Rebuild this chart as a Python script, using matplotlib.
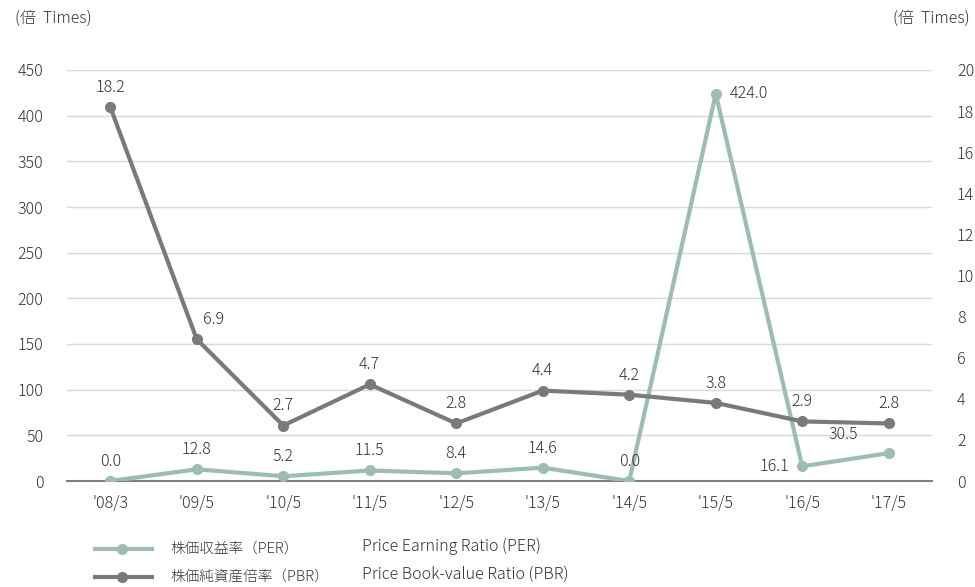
import matplotlib
matplotlib.use("Agg")
import matplotlib.pyplot as plt
from matplotlib.lines import Line2D

plt.rcParams['font.family'] = ['Noto Sans CJK JP', 'DejaVu Sans']
plt.rcParams['font.weight'] = 'light'

categories = ["'08/3", "'09/5", "'10/5", "'11/5", "'12/5", "'13/5", "'14/5", "'15/5", "'16/5", "'17/5"]
per = [0.0, 12.8, 5.2, 11.5, 8.4, 14.6, 0.0, 424.0, 16.1, 30.5]
pbr = [18.2, 6.9, 2.7, 4.7, 2.8, 4.4, 4.2, 3.8, 2.9, 2.8]
left_ticks = [0, 50, 100, 150, 200, 250, 300, 350, 400, 450]
right_ticks = [0, 2, 4, 6, 8, 10, 12, 14, 16, 18, 20]

PER_C = '#9dbdb2'
PBR_C = '#7a7a7a'
TXT = '#333333'

W, H = 975, 587
fig = plt.figure(figsize=(W/100, H/100), dpi=100)
l, r, t, b = 67, 932, 70, 481
ax = fig.add_axes([l/W, 1-b/H, (r-l)/W, (b-t)/H])
ax2 = ax.twinx()

x = list(range(len(categories)))
ax.set_xlim(-0.5, 9.5)
ax.set_ylim(0, 450)
ax2.set_ylim(0, 20)

for yv in left_ticks[1:]:
    ax.axhline(yv, color='#d9d9d9', lw=1, zorder=0)

ax.plot(x, per, color=PER_C, lw=3, marker='o', ms=7, zorder=3)
ax2.plot(x, pbr, color=PBR_C, lw=3, marker='o', ms=7, zorder=3)

for s in ['top', 'left', 'right']:
    ax.spines[s].set_visible(False)
    ax2.spines[s].set_visible(False)
ax.spines['bottom'].set_color('#7f7f7f')
ax.spines['bottom'].set_linewidth(1.5)
ax2.spines['bottom'].set_visible(False)

ax.set_xticks(x)
ax.set_xticklabels(categories)
ax.set_yticks(left_ticks)
ax2.set_yticks(right_ticks)
ax.tick_params(axis='both', length=0, labelsize=11.5, colors=TXT)
ax.tick_params(axis='y', pad=17)
ax.tick_params(axis='x', pad=10)
ax2.tick_params(axis='y', length=0, labelsize=11.5, colors=TXT, pad=18)

# labels
for i, v in enumerate(per):
    if i == 7:
        ax.annotate(f"{v:.1f}", (i, v), xytext=(10, 0), textcoords='offset points',
                    ha='left', va='center', fontsize=11.5, color=TXT)
    elif i == 8:
        ax.annotate(f"{v:.1f}", (i, v), xytext=(-9, 0), textcoords='offset points',
                    ha='right', va='center', fontsize=11.5, color=TXT)
    elif i == 9:
        ax.annotate(f"{v:.1f}", (i, v), xytext=(-33, 7), textcoords='offset points',
                    ha='center', va='bottom', fontsize=11.5, color=TXT)
    else:
        ax.annotate(f"{v:.1f}", (i, v), xytext=(0, 8), textcoords='offset points',
                    ha='center', va='bottom', fontsize=11.5, color=TXT)
for i, v in enumerate(pbr):
    dx = 0
    if i == 1:
        dx = 12
    ax2.annotate(f"{v:.1f}", (i, v), xytext=(dx, 8), textcoords='offset points',
                 ha='center', va='bottom', fontsize=11.5, color=TXT)

fig.text(15/W, 1-18/H, '(倍  Times)', ha='left', va='center', fontsize=11.5, color=TXT)
fig.text(970/W, 1-18/H, '(倍  Times)', ha='right', va='center', fontsize=11.5, color=TXT)

# legend
for yy, c, jp, en in [(549, PER_C, '株価収益率（PER）', 'Price Earning Ratio (PER)'),
                      (577, PBR_C, '株価純資産倍率（PBR）', 'Price Book-value Ratio (PBR)')]:
    fig.add_artist(Line2D([95/W, 152/W], [1-yy/H, 1-yy/H], color=c, lw=3))
    fig.add_artist(Line2D([122/W], [1-yy/H], color=c, marker='o', ms=7))
    fig.text(170/W, 1-yy/H, jp, ha='left', va='center', fontsize=10.5, color=TXT)
    fig.text(362/W, 1-(yy-3)/H, en, ha='left', va='center', fontsize=11.5, color=TXT)

fig.savefig('out.png', dpi=100)
